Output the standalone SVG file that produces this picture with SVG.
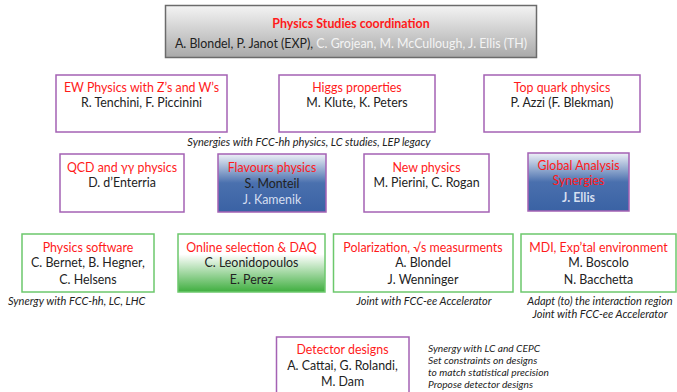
<svg xmlns="http://www.w3.org/2000/svg" width="677" height="392" viewBox="0 0 677 392">
<style>
text{font-family:Lato,"Open Sans","Liberation Sans",sans-serif;font-size:12.4px;text-anchor:middle;fill:#222}
.t{fill:#ff1a1a}
.n{fill:#222}
.w{fill:#f4f4f4}
.lb{fill:#d6dff0}
.note{font-size:11px;font-style:italic;fill:#222}
.sm{font-size:10.2px}
.s{text-anchor:start}
.p{fill:#fff;stroke:#a462b4;stroke-width:1.5}
.g{fill:#fff;stroke:#6cc86c;stroke-width:1.5}
</style>
<defs>
<linearGradient id="gray" x1="0" y1="0" x2="0" y2="1"><stop offset="0" stop-color="#f4f4f4"/><stop offset="1" stop-color="#a9a9a9"/></linearGradient>
<linearGradient id="blue" x1="0" y1="0" x2="0" y2="1"><stop offset="0" stop-color="#eef1f7"/><stop offset="0.5" stop-color="#4a70ae"/><stop offset="1" stop-color="#3a62a4"/></linearGradient>
<linearGradient id="green" x1="0" y1="0" x2="0" y2="1"><stop offset="0" stop-color="#ffffff"/><stop offset="0.35" stop-color="#ffffff"/><stop offset="1" stop-color="#3fae3f"/></linearGradient>
</defs>
<g id="coordination">
<rect x="165.5" y="5.5" width="371" height="52" fill="url(#gray)" stroke="#6b6b6b" stroke-width="1.5"/>
<text x="351" y="28" class="t" font-weight="bold">Physics Studies coordination</text>
<text x="351" y="48"><tspan class="n">A. Blondel, P. Janot (EXP), </tspan><tspan class="w">C. Grojean, M. McCullough, J. Ellis (TH)</tspan></text>
</g>
<g id="ew">
<rect x="56" y="75" width="171" height="57" class="p"/>
<text x="141.5" y="92" class="t">EW Physics with Z’s and W’s</text>
<text x="141.5" y="107">R. Tenchini, F. Piccinini</text>
</g>
<g id="higgs">
<rect x="279" y="75" width="156" height="57" class="p"/>
<text x="357" y="92" class="t">Higgs properties</text>
<text x="357" y="107">M. Klute, K. Peters</text>
</g>
<g id="top">
<rect x="484" y="75" width="156" height="57" class="p"/>
<text x="562" y="92" class="t">Top quark physics</text>
<text x="562" y="107">P. Azzi  (F. Blekman)</text>
</g>
<text x="309" y="146" class="note">Synergies with FCC-hh physics, LC studies, LEP legacy</text>
<g id="qcd">
<rect x="60" y="154" width="124" height="58" class="p"/>
<text x="122" y="172" class="t">QCD and γγ physics</text>
<text x="122" y="187">D. d’Enterria</text>
</g>
<g id="flavours">
<rect x="218" y="154" width="108" height="58" fill="url(#blue)" stroke="#a462b4" stroke-width="1.5"/>
<text x="272" y="172" class="t">Flavours physics</text>
<text x="272" y="188" class="n">S. Monteil</text>
<text x="272" y="204" class="lb">J. Kamenik</text>
</g>
<g id="newphysics">
<rect x="364" y="154" width="125" height="58" class="p"/>
<text x="426.5" y="172" class="t">New physics</text>
<text x="426.5" y="187">M. Pierini, C. Rogan</text>
</g>
<g id="global">
<rect x="528" y="153" width="101" height="58" fill="url(#blue)" stroke="#a462b4" stroke-width="1.5"/>
<text x="578.5" y="170" class="t">Global Analysis</text>
<text x="578.5" y="185" class="t">Synergies</text>
<text x="578.5" y="202" class="lb" font-weight="bold">J. Ellis</text>
</g>
<g id="software">
<rect x="22" y="234" width="132" height="58" class="g"/>
<text x="88" y="252" class="t">Physics software</text>
<text x="88" y="267">C. Bernet, B. Hegner,</text>
<text x="88" y="284">C. Helsens</text>
</g>
<text x="8" y="305" class="note s">Synergy with FCC-hh, LC, LHC</text>
<g id="online">
<rect x="178" y="234" width="147" height="58" fill="url(#green)" stroke="#6cc86c" stroke-width="1.5"/>
<text x="251.5" y="252" class="t">Online selection &amp; DAQ</text>
<text x="251.5" y="267">C. Leonidopoulos</text>
<text x="251.5" y="284">E. Perez</text>
</g>
<g id="polarization">
<rect x="333.5" y="234" width="179.5" height="58" class="g"/>
<text x="423" y="252" class="t">Polarization, √s measurments</text>
<text x="423" y="267">A. Blondel</text>
<text x="423" y="284">J. Wenninger</text>
</g>
<text x="424" y="305" class="note">Joint with FCC-ee Accelerator</text>
<g id="mdi">
<rect x="521" y="234" width="155" height="58" class="g"/>
<text x="598.5" y="252" class="t">MDI, Exp’tal environment</text>
<text x="598.5" y="267">M. Boscolo</text>
<text x="598.5" y="284">N. Bacchetta</text>
</g>
<text x="600" y="305" class="note">Adapt (to) the interaction region</text>
<text x="600" y="318" class="note">Joint with FCC-ee Accelerator</text>
<g id="detector">
<rect x="276.5" y="337" width="132.5" height="62" class="p"/>
<text x="342.5" y="354" class="t">Detector designs</text>
<text x="342.5" y="370">A. Cattai, G. Rolandi,</text>
<text x="342.5" y="386">M. Dam</text>
</g>
<text x="428" y="352" class="note sm s">Synergy with LC and CEPC</text>
<text x="428" y="364" class="note sm s">Set constraints on designs</text>
<text x="428" y="376" class="note sm s">to match statistical precision</text>
<text x="428" y="388" class="note sm s">Propose detector designs</text>
<g id="connectors"/>
</svg>
